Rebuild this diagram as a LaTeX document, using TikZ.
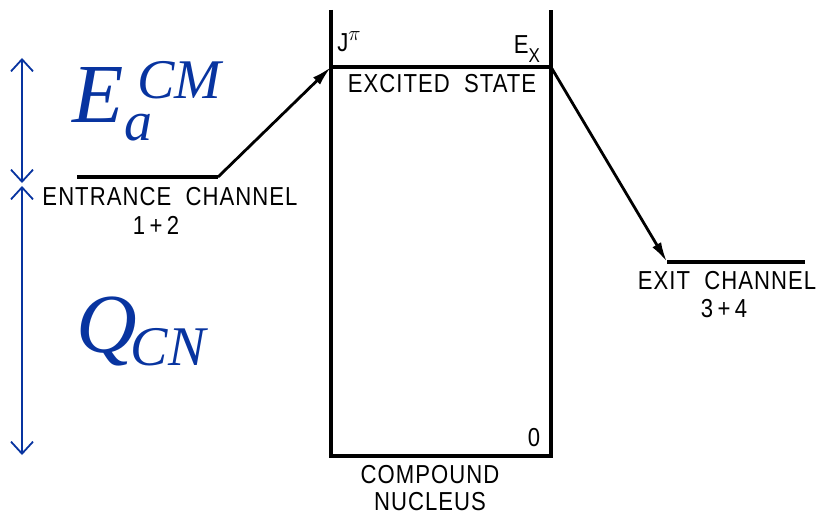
\documentclass[tikz,border=0pt]{standalone}
\usepackage{fontspec}
\usepackage{xcolor}
\usetikzlibrary{positioning, arrows.meta, calc}
\newfontfamily\chfont[FakeStretch=0.85, LetterSpace=4]{Liberation Sans}
\newfontfamily\symfont{Liberation Serif}
\definecolor{qblue}{RGB}{8,52,160}

\begin{document}
\begin{tikzpicture}[x=1pt, y=-1pt,
    level/.style={line width=3.2pt},
    decay/.style={line width=2.8pt, -{Latex[length=20pt,width=10pt]}},
    gap/.style={qblue, line width=1.8pt, {Straight Barb[length=12pt,width=22pt]}-{Straight Barb[length=12pt,width=22pt]}},
    label/.style={font=\chfont\fontsize{26}{26}\selectfont, inner sep=0pt},
    big/.style={qblue, inner sep=0pt, anchor=base west}
]
\useasboundingbox (0,0) rectangle (816,516);

% Compound nucleus box
\coordinate (tl) at (331,10);
\coordinate (tr) at (551,10);
\coordinate (bl) at (331,456);
\coordinate (br) at (551,456);
\draw[level] (tl) -- (bl) -- (br) -- (tr);

% Excited state
\coordinate (exl) at (331,67);
\coordinate (exr) at (551,67);
\draw[level] (exl) -- (exr);
\node[label] (jpi) at (349,42) {J\raisebox{11pt}{\fontsize{20}{20}\selectfont$\pi$}};
\node[label] (ex) at (527,49) {E\raisebox{-9pt}{\fontsize{20}{20}\selectfont X}};
\node[label] (exs) at (442,84) {EXCITED \ STATE};
\node[label] (zero) at (534,438) {0};
\node[label, align=center] (cn) at (430,488) {COMPOUND\\[1pt]NUCLEUS};

% Entrance channel
\coordinate (inl) at (77,177);
\coordinate (inr) at (218,177);
\draw[level] (inl) -- (inr);
\draw[decay] (inr) -- (exl);
\node[label] (inlab) at (170,197) {ENTRANCE \ CHANNEL};
\node[label] (in12) at (156,225) {1\,+\,2};

% Exit channel
\coordinate (outl) at (667,262);
\coordinate (outr) at (805,262);
\draw[level] (outl) -- (outr);
\draw[decay] (exr) -- (outl);
\node[label] (outlab) at (727,281) {EXIT \ CHANNEL};
\node[label] (out34) at (724,309) {3\,+\,4};

% Energy arrows
\coordinate (a1) at (22,58);
\coordinate (a2) at (22,183);
\coordinate (a3) at (22,186);
\coordinate (a4) at (22,455);
\draw[gap] (a1) -- (a2);
\draw[gap] (a3) -- (a4);

\node[big] (ecm) at (72,122) {\symfont\itshape\fontsize{84}{84}\selectfont E\rlap{\kern1pt\raisebox{-18pt}{\fontsize{56}{56}\selectfont a}}\kern14pt\raisebox{24pt}{\fontsize{56}{56}\selectfont CM}};
\node[big] (qcn) at (76,352) {\symfont\itshape\fontsize{84}{84}\selectfont Q\kern-6pt\raisebox{-13pt}{\fontsize{56}{56}\selectfont CN}};

\end{tikzpicture}
\end{document}
